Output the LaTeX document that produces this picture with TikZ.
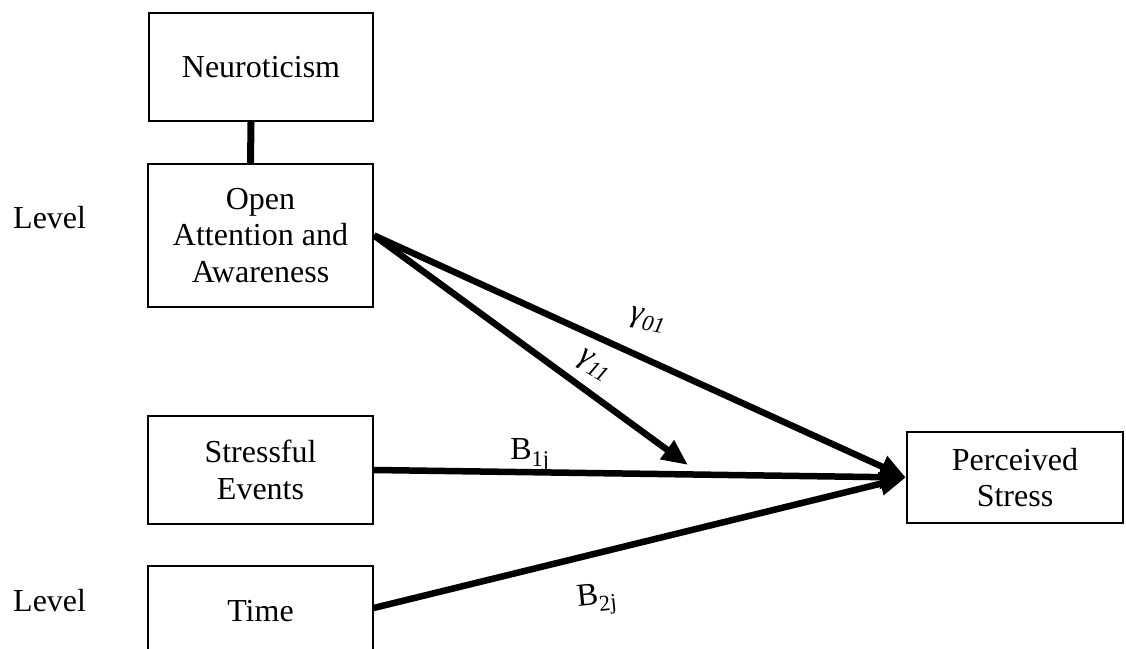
\documentclass[tikz,border=0pt]{standalone}
\usepackage{fontspec}
\setmainfont{Liberation Serif}
\usetikzlibrary{arrows.meta}
\newcommand\dgfont{\fontsize{32bp}{36.7bp}\selectfont}
\begin{document}
\begin{tikzpicture}[x=1bp,y=-1bp,
  box/.style={draw, line width=2.2bp, inner sep=0pt, align=center, font=\dgfont},
  lbl/.style={inner sep=0pt, font=\dgfont},
  arr/.style={line width=6.5bp, -{Triangle[length=26bp,width=22bp]}},
  link/.style={line width=7bp}]
\clip (0,0) rectangle (1126,649);
\useasboundingbox (0,0) rectangle (1126,649);
% boxes
\node[box, minimum width=224bp, minimum height=108bp] (neuro) at (261,67) {Neuroticism};
\node[box, minimum width=225bp, minimum height=143bp] (open) at (260.5,235.5) {Open\\Attention and\\Awareness};
\node[box, minimum width=225bp, minimum height=108bp] (stress) at (260.5,470) {Stressful\\Events};
\node[box, line width=1.2bp, minimum width=225bp, minimum height=90bp] (time) at (260.5,611) {Time};
\node[box, minimum width=216bp, minimum height=91bp] (perc) at (1015,477.5) {Perceived\\Stress};
% level labels
\node[lbl, anchor=base west] (lev1) at (13,228) {Level};
\node[lbl, anchor=base west] (lev2) at (13,611) {Level};
% connectors
\draw[link] ([xshift=-10bp]neuro.south) -- ([xshift=-10bp]open.north);
\coordinate (g11tip) at (688,465);
\draw[arr] (open.east) -- (perc.west);
\draw[arr] (open.east) -- (g11tip);
\draw[arr] (stress.east) -- (perc.west);
\draw[arr] ([yshift=3bp]time.east) -- (perc.west);
% path labels
\node[lbl, rotate=-12] (g01) at (648,320) {\itshape γ\textsubscript{01}};
\node[lbl, rotate=-30] (g11) at (594,366) {\itshape γ\textsubscript{11}};
\node[lbl] (b1) at (530,455) {B\textsubscript{1j}};
\node[lbl, rotate=6] (b2) at (597,600) {B\textsubscript{2j}};
\end{tikzpicture}
\end{document}
